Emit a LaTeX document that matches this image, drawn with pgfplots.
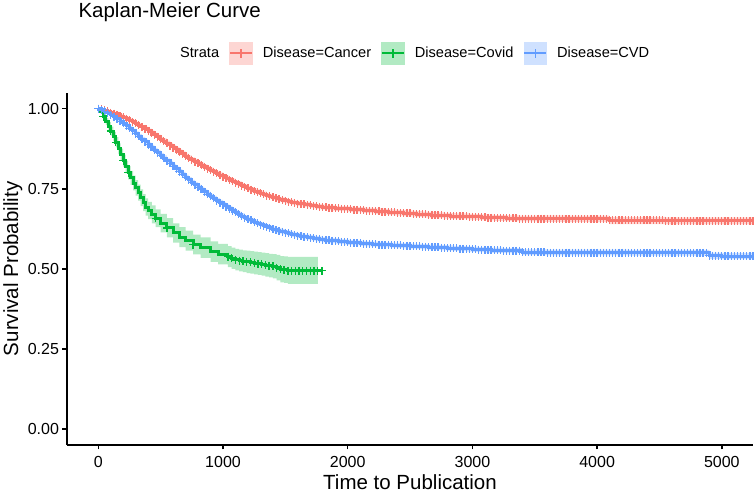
\documentclass[border=0pt]{standalone}
\usepackage{fontspec}
\setmainfont{Liberation Sans}
\usepackage{pgfplots}
\usepackage{pgfplotstable}
\pgfplotsset{compat=1.18}
\usepgfplotslibrary{fillbetween}

\definecolor{cancer}{HTML}{F8766D}
\definecolor{covid}{HTML}{00BA38}
\definecolor{cvd}{HTML}{619CFF}

% Kaplan-Meier estimates: time, survival, lower and upper 95% limits
\pgfplotstableread{
t s lo hi
0 1.000 1.000 1.000
25 0.998 0.995 1.000
50 0.995 0.991 0.998
75 0.992 0.987 0.996
100 0.988 0.983 0.993
125 0.985 0.979 0.990
150 0.981 0.975 0.986
175 0.977 0.971 0.983
200 0.973 0.967 0.979
225 0.969 0.963 0.975
250 0.964 0.958 0.970
275 0.959 0.953 0.965
300 0.954 0.948 0.960
325 0.949 0.943 0.955
350 0.943 0.937 0.949
375 0.937 0.930 0.944
400 0.931 0.924 0.938
425 0.925 0.918 0.932
450 0.918 0.911 0.925
475 0.912 0.905 0.919
500 0.905 0.898 0.912
525 0.899 0.891 0.907
550 0.892 0.884 0.900
575 0.885 0.877 0.893
600 0.878 0.870 0.886
625 0.872 0.864 0.880
650 0.865 0.857 0.873
675 0.859 0.851 0.867
700 0.852 0.844 0.860
725 0.846 0.838 0.854
750 0.840 0.832 0.848
775 0.835 0.827 0.843
800 0.829 0.821 0.837
825 0.824 0.816 0.832
850 0.818 0.810 0.826
875 0.813 0.805 0.821
900 0.808 0.800 0.816
925 0.803 0.795 0.811
950 0.798 0.790 0.806
975 0.793 0.785 0.801
1000 0.788 0.780 0.796
1025 0.783 0.775 0.791
1050 0.778 0.770 0.786
1075 0.774 0.766 0.782
1100 0.769 0.761 0.777
1125 0.765 0.757 0.773
1150 0.760 0.752 0.768
1175 0.756 0.748 0.764
1200 0.751 0.743 0.759
1225 0.747 0.739 0.755
1250 0.743 0.735 0.751
1275 0.740 0.732 0.748
1300 0.736 0.728 0.744
1325 0.733 0.725 0.741
1350 0.729 0.721 0.737
1375 0.726 0.718 0.734
1400 0.723 0.715 0.731
1425 0.720 0.712 0.728
1450 0.717 0.709 0.725
1475 0.715 0.707 0.723
1500 0.712 0.704 0.720
1525 0.710 0.702 0.718
1550 0.708 0.700 0.716
1575 0.706 0.698 0.714
1600 0.704 0.696 0.712
1625 0.703 0.695 0.711
1650 0.701 0.693 0.709
1675 0.700 0.692 0.708
1700 0.698 0.690 0.706
1725 0.697 0.689 0.705
1750 0.695 0.687 0.703
1775 0.694 0.686 0.702
1800 0.693 0.685 0.701
1825 0.692 0.684 0.700
1850 0.691 0.683 0.699
1875 0.690 0.682 0.698
1900 0.689 0.681 0.697
1925 0.689 0.681 0.697
1950 0.688 0.680 0.696
1975 0.688 0.680 0.696
2000 0.687 0.679 0.695
2025 0.686 0.678 0.694
2050 0.685 0.677 0.693
2075 0.685 0.677 0.693
2100 0.684 0.676 0.693
2125 0.683 0.675 0.692
2150 0.682 0.674 0.691
2175 0.682 0.674 0.691
2200 0.681 0.673 0.690
2225 0.680 0.672 0.689
2250 0.680 0.671 0.689
2275 0.679 0.670 0.688
2300 0.678 0.669 0.687
2325 0.677 0.668 0.686
2350 0.677 0.668 0.686
2375 0.676 0.667 0.685
2400 0.675 0.666 0.684
2425 0.675 0.666 0.684
2450 0.674 0.665 0.683
2475 0.673 0.664 0.682
2500 0.673 0.664 0.682
2525 0.672 0.663 0.681
2550 0.671 0.662 0.680
2575 0.671 0.662 0.680
2600 0.670 0.661 0.679
2625 0.670 0.661 0.679
2650 0.669 0.660 0.678
2675 0.668 0.659 0.677
2700 0.668 0.659 0.677
2725 0.667 0.658 0.676
2750 0.667 0.658 0.676
2775 0.666 0.657 0.675
2800 0.666 0.657 0.675
2825 0.665 0.656 0.674
2850 0.665 0.656 0.674
2875 0.664 0.655 0.673
2900 0.664 0.655 0.673
2925 0.664 0.655 0.673
2950 0.664 0.655 0.673
2975 0.663 0.654 0.672
3000 0.663 0.654 0.672
3025 0.662 0.653 0.671
3050 0.662 0.653 0.671
3075 0.661 0.652 0.670
3100 0.661 0.652 0.670
3125 0.660 0.651 0.669
3150 0.660 0.651 0.669
3175 0.659 0.650 0.668
3200 0.659 0.650 0.668
3225 0.659 0.650 0.668
3250 0.659 0.650 0.668
3275 0.658 0.649 0.667
3300 0.658 0.649 0.667
3325 0.658 0.649 0.667
3350 0.658 0.649 0.667
3375 0.657 0.648 0.666
3400 0.657 0.648 0.666
3425 0.657 0.648 0.666
3450 0.657 0.648 0.666
3475 0.657 0.648 0.666
3500 0.657 0.648 0.666
3525 0.657 0.648 0.666
3550 0.657 0.648 0.666
3575 0.657 0.647 0.667
3600 0.657 0.647 0.667
3625 0.657 0.647 0.667
3650 0.657 0.647 0.667
3675 0.657 0.647 0.667
3700 0.657 0.647 0.667
3725 0.657 0.647 0.667
3750 0.656 0.646 0.666
3775 0.656 0.646 0.666
3800 0.656 0.646 0.666
3825 0.656 0.646 0.666
3850 0.656 0.646 0.666
3875 0.656 0.646 0.666
3900 0.656 0.646 0.666
3925 0.656 0.646 0.666
3950 0.656 0.646 0.666
3975 0.656 0.646 0.666
4000 0.656 0.646 0.666
4025 0.656 0.646 0.666
4050 0.656 0.646 0.666
4075 0.656 0.646 0.666
4100 0.651 0.640 0.662
4125 0.651 0.640 0.662
4150 0.651 0.640 0.662
4175 0.651 0.640 0.662
4200 0.651 0.640 0.662
4225 0.651 0.640 0.662
4250 0.651 0.640 0.662
4275 0.651 0.640 0.662
4300 0.651 0.640 0.662
4325 0.651 0.640 0.662
4350 0.651 0.640 0.662
4375 0.651 0.640 0.662
4400 0.651 0.640 0.662
4425 0.651 0.640 0.662
4450 0.651 0.640 0.662
4475 0.651 0.640 0.662
4500 0.651 0.640 0.662
4525 0.651 0.640 0.662
4550 0.650 0.639 0.661
4575 0.650 0.639 0.661
4600 0.650 0.639 0.661
4625 0.650 0.639 0.661
4650 0.650 0.639 0.661
4675 0.650 0.639 0.661
4700 0.650 0.639 0.661
4725 0.650 0.639 0.661
4750 0.650 0.639 0.661
4775 0.650 0.639 0.661
4800 0.650 0.639 0.661
4825 0.650 0.639 0.661
4850 0.650 0.639 0.661
4875 0.650 0.639 0.661
4900 0.650 0.639 0.661
4925 0.650 0.639 0.661
4950 0.650 0.639 0.661
4975 0.650 0.639 0.661
5000 0.650 0.639 0.661
5025 0.650 0.639 0.661
5050 0.650 0.639 0.661
5075 0.650 0.639 0.661
5100 0.650 0.639 0.661
5125 0.650 0.639 0.661
5150 0.650 0.639 0.661
5175 0.650 0.639 0.661
5200 0.650 0.639 0.661
5225 0.650 0.639 0.661
5250 0.650 0.639 0.661
5275 0.650 0.639 0.661
5300 0.650 0.639 0.661
}\tabcancer

\pgfplotstableread{
t s lo hi
0 1.000 1.000 1.000
20 0.990 0.984 0.996
40 0.975 0.966 0.984
60 0.960 0.949 0.971
80 0.945 0.932 0.958
100 0.930 0.916 0.944
120 0.913 0.898 0.928
140 0.895 0.879 0.911
160 0.875 0.858 0.892
180 0.857 0.839 0.875
200 0.838 0.819 0.857
220 0.818 0.798 0.838
240 0.800 0.779 0.821
260 0.784 0.762 0.806
280 0.768 0.745 0.791
300 0.753 0.729 0.777
320 0.738 0.713 0.763
340 0.722 0.696 0.748
360 0.706 0.680 0.733
380 0.693 0.666 0.720
400 0.682 0.655 0.709
430 0.670 0.642 0.698
460 0.658 0.630 0.686
500 0.643 0.614 0.672
550 0.628 0.598 0.658
600 0.612 0.582 0.642
650 0.599 0.568 0.630
700 0.588 0.557 0.619
760 0.576 0.545 0.607
820 0.566 0.534 0.598
900 0.554 0.522 0.586
960 0.546 0.514 0.578
1040 0.538 0.505 0.571
1070 0.533 0.500 0.566
1100 0.528 0.495 0.562
1130 0.526 0.492 0.560
1160 0.524 0.490 0.558
1190 0.522 0.487 0.557
1220 0.520 0.485 0.555
1250 0.518 0.483 0.554
1280 0.516 0.481 0.552
1310 0.515 0.479 0.551
1340 0.512 0.476 0.549
1370 0.510 0.473 0.547
1400 0.508 0.470 0.546
1430 0.504 0.464 0.544
1460 0.499 0.458 0.540
1490 0.497 0.456 0.539
1520 0.494 0.453 0.537
1550 0.494 0.453 0.537
1580 0.494 0.453 0.537
1610 0.494 0.453 0.537
1640 0.494 0.453 0.537
1670 0.494 0.453 0.537
1700 0.494 0.453 0.537
1730 0.494 0.453 0.537
1760 0.494 0.453 0.537
1794 0.494 0.453 0.537
}\tabcovid

\pgfplotstableread{
t s lo hi
0 1.000 1.000 1.000
25 0.996 0.993 0.999
50 0.992 0.988 0.996
75 0.987 0.982 0.991
100 0.981 0.976 0.986
125 0.975 0.969 0.980
150 0.968 0.962 0.974
175 0.961 0.955 0.967
200 0.954 0.948 0.960
225 0.947 0.940 0.954
250 0.939 0.932 0.946
275 0.931 0.924 0.938
300 0.922 0.915 0.929
325 0.914 0.907 0.921
350 0.905 0.898 0.912
375 0.897 0.890 0.904
400 0.888 0.881 0.895
425 0.880 0.873 0.887
450 0.871 0.864 0.878
475 0.863 0.855 0.871
500 0.854 0.846 0.862
525 0.846 0.838 0.854
550 0.837 0.829 0.845
575 0.829 0.821 0.837
600 0.820 0.812 0.828
625 0.812 0.804 0.820
650 0.803 0.795 0.811
675 0.795 0.787 0.803
700 0.786 0.778 0.794
725 0.778 0.770 0.786
750 0.770 0.762 0.778
775 0.763 0.755 0.771
800 0.755 0.747 0.763
825 0.748 0.740 0.756
850 0.740 0.732 0.748
875 0.733 0.725 0.741
900 0.726 0.718 0.734
925 0.720 0.712 0.728
950 0.713 0.705 0.721
975 0.707 0.699 0.715
1000 0.700 0.692 0.708
1025 0.694 0.686 0.702
1050 0.688 0.680 0.696
1075 0.682 0.674 0.690
1100 0.676 0.668 0.684
1125 0.671 0.663 0.679
1150 0.665 0.657 0.673
1175 0.660 0.652 0.668
1200 0.655 0.647 0.663
1225 0.651 0.643 0.659
1250 0.646 0.638 0.654
1275 0.642 0.634 0.650
1300 0.638 0.630 0.646
1325 0.635 0.627 0.643
1350 0.631 0.623 0.639
1375 0.628 0.620 0.636
1400 0.624 0.616 0.632
1425 0.621 0.613 0.629
1450 0.618 0.610 0.626
1475 0.616 0.608 0.624
1500 0.613 0.605 0.621
1525 0.611 0.603 0.619
1550 0.608 0.600 0.616
1575 0.606 0.598 0.614
1600 0.604 0.596 0.612
1625 0.602 0.594 0.610
1650 0.600 0.592 0.608
1675 0.599 0.591 0.607
1700 0.597 0.589 0.605
1725 0.596 0.588 0.604
1750 0.594 0.586 0.602
1775 0.593 0.585 0.601
1800 0.591 0.583 0.599
1825 0.590 0.582 0.598
1850 0.589 0.581 0.597
1875 0.588 0.580 0.596
1900 0.587 0.579 0.595
1925 0.586 0.578 0.594
1950 0.585 0.577 0.593
1975 0.584 0.576 0.592
2000 0.583 0.575 0.591
2025 0.582 0.574 0.590
2050 0.581 0.573 0.589
2075 0.581 0.573 0.589
2100 0.580 0.572 0.588
2125 0.579 0.571 0.587
2150 0.578 0.570 0.586
2175 0.578 0.570 0.586
2200 0.577 0.569 0.585
2225 0.577 0.569 0.585
2250 0.576 0.568 0.584
2275 0.576 0.568 0.584
2300 0.575 0.567 0.583
2325 0.575 0.567 0.583
2350 0.574 0.566 0.582
2375 0.574 0.566 0.582
2400 0.573 0.565 0.581
2425 0.573 0.565 0.581
2450 0.572 0.564 0.580
2475 0.572 0.564 0.580
2500 0.571 0.563 0.579
2525 0.571 0.563 0.579
2550 0.570 0.562 0.578
2575 0.570 0.562 0.578
2600 0.569 0.561 0.577
2625 0.569 0.561 0.577
2650 0.568 0.560 0.576
2675 0.568 0.560 0.576
2700 0.567 0.559 0.575
2725 0.567 0.559 0.575
2750 0.566 0.558 0.574
2775 0.566 0.558 0.574
2800 0.565 0.557 0.573
2825 0.565 0.557 0.573
2850 0.564 0.556 0.572
2875 0.564 0.556 0.572
2900 0.563 0.555 0.571
2925 0.563 0.555 0.571
2950 0.562 0.554 0.570
2975 0.562 0.554 0.570
3000 0.561 0.553 0.569
3025 0.561 0.553 0.569
3050 0.560 0.552 0.568
3075 0.560 0.552 0.568
3100 0.559 0.551 0.567
3125 0.559 0.551 0.567
3150 0.558 0.550 0.566
3175 0.558 0.550 0.566
3200 0.558 0.550 0.566
3225 0.558 0.550 0.566
3250 0.557 0.549 0.565
3275 0.557 0.549 0.565
3300 0.557 0.549 0.565
3325 0.557 0.549 0.565
3350 0.557 0.549 0.565
3375 0.557 0.549 0.565
3400 0.552 0.543 0.561
3425 0.552 0.543 0.561
3450 0.552 0.543 0.561
3475 0.552 0.543 0.561
3500 0.552 0.543 0.561
3525 0.552 0.543 0.561
3550 0.552 0.543 0.561
3575 0.552 0.543 0.561
3600 0.551 0.542 0.560
3625 0.551 0.542 0.560
3650 0.551 0.542 0.560
3675 0.551 0.542 0.560
3700 0.551 0.542 0.560
3725 0.551 0.542 0.560
3750 0.551 0.542 0.560
3775 0.551 0.542 0.560
3800 0.551 0.542 0.560
3825 0.551 0.542 0.560
3850 0.551 0.542 0.560
3875 0.551 0.542 0.560
3900 0.551 0.542 0.560
3925 0.551 0.542 0.560
3950 0.551 0.542 0.560
3975 0.551 0.542 0.560
4000 0.551 0.542 0.560
4025 0.551 0.542 0.560
4050 0.551 0.542 0.560
4075 0.551 0.542 0.560
4100 0.551 0.542 0.560
4125 0.551 0.542 0.560
4150 0.551 0.542 0.560
4175 0.551 0.542 0.560
4200 0.551 0.542 0.560
4225 0.551 0.542 0.560
4250 0.550 0.541 0.559
4275 0.550 0.541 0.559
4300 0.550 0.541 0.559
4325 0.550 0.541 0.559
4350 0.550 0.541 0.559
4375 0.550 0.541 0.559
4400 0.550 0.541 0.559
4425 0.550 0.541 0.559
4450 0.550 0.541 0.559
4475 0.550 0.541 0.559
4500 0.550 0.541 0.559
4525 0.550 0.541 0.559
4550 0.550 0.541 0.559
4575 0.550 0.541 0.559
4600 0.550 0.541 0.559
4625 0.550 0.541 0.559
4650 0.550 0.541 0.559
4675 0.550 0.541 0.559
4700 0.550 0.541 0.559
4725 0.550 0.541 0.559
4750 0.550 0.541 0.559
4775 0.550 0.541 0.559
4800 0.550 0.541 0.559
4825 0.550 0.541 0.559
4850 0.550 0.541 0.559
4875 0.550 0.541 0.559
4900 0.541 0.531 0.551
4925 0.541 0.531 0.551
4950 0.541 0.531 0.551
4975 0.541 0.531 0.551
5000 0.540 0.530 0.550
5025 0.540 0.530 0.550
5050 0.540 0.530 0.550
5075 0.540 0.530 0.550
5100 0.540 0.530 0.550
5125 0.540 0.530 0.550
5150 0.540 0.530 0.550
5175 0.540 0.530 0.550
5200 0.540 0.530 0.550
5225 0.540 0.530 0.550
5250 0.540 0.530 0.550
5275 0.540 0.530 0.550
5300 0.540 0.530 0.550
}\tabcvd

\pgfplotsset{
  kmkey/.style={legend image code/.code={
    \path[fill=#1, fill opacity=0.3, draw=none] (0bp,-11.65bp) rectangle (23.3bp,11.65bp);
    \draw[#1, line width=2bp] (0.8bp,0bp) -- (22.5bp,0bp);
    \draw[#1, line width=1.3bp] (11.65bp,-4.2bp) -- (11.65bp,4.2bp);
  }},
  kmband/.style={draw=none, const plot, forget plot},
  kmstep/.style={#1, line width=3bp, const plot, forget plot},
  kmcens/.style={#1, only marks, mark=+, mark size=4bp,
    mark options={line width=1.3bp, solid}, forget plot},
}

\begin{document}
\begin{tikzpicture}
\begin{axis}[
  at={(0,0)}, anchor=south west,
  width=686bp, height=352.3bp, scale only axis,
  xmin=-251, xmax=5250, ymin=-0.05, ymax=1.05,
  axis x line*=bottom, axis y line*=left,
  axis line style={-, line width=1.5bp, black},
  tick align=outside, major tick length=4.5bp,
  every tick/.style={line width=1.5bp, black},
  xtick={0,1000,2000,3000,4000,5000},
  xticklabels={0,1000,2000,3000,4000,5000},
  ytick={0,0.25,0.5,0.75,1},
  yticklabels={0.00,0.25,0.50,0.75,1.00},
  /pgf/number format/assume math mode=true,
  ticklabel style={font=\fontsize{16bp}{19bp}\selectfont, black},
  xticklabel style={yshift=-3.5bp},
  title={Kaplan-Meier Curve},
  title style={at={(axis description cs:0.0165,1.1958)}, anchor=base west,
    inner sep=0pt, font=\fontsize{20.5bp}{24bp}\selectfont},
  xlabel={Time to Publication},
  xlabel style={at={(axis description cs:0.5,-0.1249)}, anchor=base,
    inner sep=0pt, font=\fontsize{20.5bp}{24bp}\selectfont},
  ylabel={Survival Probability},
  ylabel style={at={(axis description cs:-0.0711,0.5)}, anchor=base,
    inner sep=0pt, font=\fontsize{20.5bp}{24bp}\selectfont},
  legend columns=-1,
  legend style={at={(axis description cs:0.1501,1.1118)}, anchor=west,
    draw=none, fill=none, inner sep=0pt,
    font=\fontsize{14.6bp}{17bp}\selectfont,
    nodes={inner sep=0pt},
    /tikz/every odd column/.append style={column sep=10bp},
    /tikz/every even column/.append style={column sep=10bp}},
]
% confidence bands
\addplot[kmband, name path=cah] table[x=t,y=hi]{\tabcancer};
\addplot[kmband, name path=cal] table[x=t,y=lo]{\tabcancer};
\addplot[cancer, fill opacity=0.3, draw=none, forget plot] fill between[of=cah and cal];
\addplot[kmband, name path=coh, restrict x to domain=0:1765] table[x=t,y=hi]{\tabcovid};
\addplot[kmband, name path=col, restrict x to domain=0:1765] table[x=t,y=lo]{\tabcovid};
\addplot[covid, fill opacity=0.3, draw=none, forget plot] fill between[of=coh and col];
\addplot[kmband, name path=cvh] table[x=t,y=hi]{\tabcvd};
\addplot[kmband, name path=cvl] table[x=t,y=lo]{\tabcvd};
\addplot[cvd, fill opacity=0.3, draw=none, forget plot] fill between[of=cvh and cvl];

% survival steps
\addplot[kmstep=cancer] table[x=t,y=s]{\tabcancer};
\addplot[kmstep=covid] table[x=t,y=s]{\tabcovid};
\addplot[kmstep=cvd] table[x=t,y=s]{\tabcvd};

% censored observations
\addplot[kmcens=cancer] table[x=t,y=s]{\tabcancer};
\addplot[kmcens=cvd] table[x=t,y=s]{\tabcvd};
\addplot[kmcens=covid, restrict x to domain=1030:1800] table[x=t,y=s]{\tabcovid};
\addplot[kmcens=covid] coordinates {
  (40,0.975) (100,0.930) (140,0.895) (200,0.838) (240,0.800)
  (460,0.658) (550,0.628) (760,0.576)
};

\addlegendimage{empty legend}
\addlegendentry{Strata}
\addlegendimage{kmkey=cancer}
\addlegendentry{Disease=Cancer}
\addlegendimage{kmkey=covid}
\addlegendentry{Disease=Covid}
\addlegendimage{kmkey=cvd}
\addlegendentry{Disease=CVD}
\end{axis}
\pgfresetboundingbox
\useasboundingbox (-67bp,-48bp) rectangle (687bp,445bp);
\end{tikzpicture}
\end{document}
